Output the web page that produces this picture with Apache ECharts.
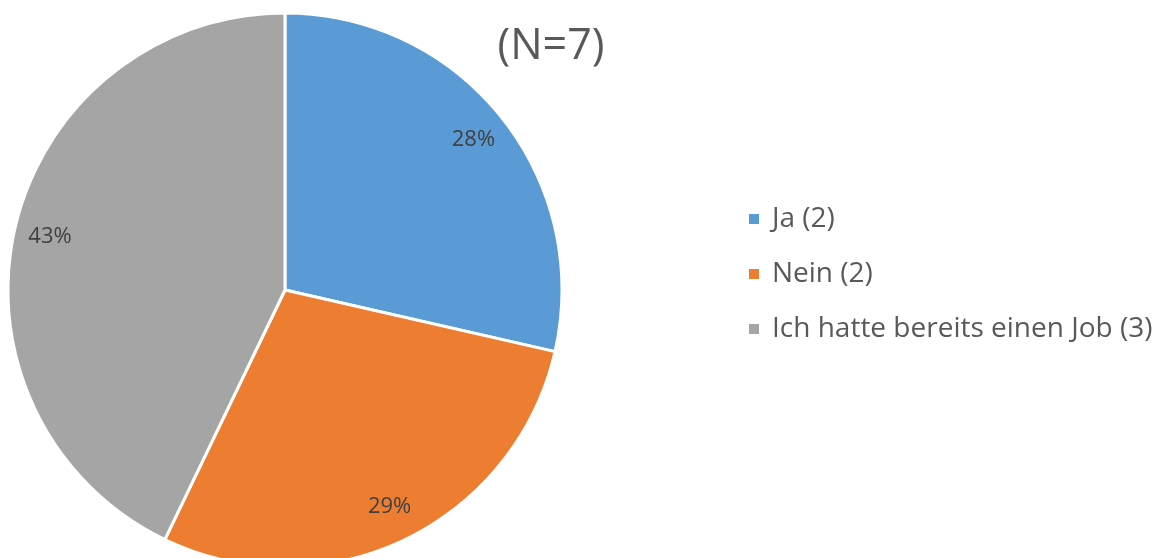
<!DOCTYPE html>
<html>
<head>
<meta charset="utf-8">
<script src="https://cdn.jsdelivr.net/npm/echarts@6/dist/echarts.min.js"></script>
<style>
    html, body { margin: 0; padding: 0; background: #fff; }
    #chart { width: 1166px; height: 558px; }
</style>
</head>
<body>
<div id="chart"></div>
<script>
// Antworten, Anzahl und angezeigte Prozentwerte
var categories = ['Ja (2)', 'Nein (2)', 'Ich hatte bereits einen Job (3)'];
var counts = [2, 2, 3];
var percentLabels = ['28%', '29%', '43%'];
var colors = ['#5B9BD5', '#ED7D31', '#A5A5A5'];

var pieData = categories.map(function (name, i) {
    return { name: name, value: counts[i], itemStyle: { color: colors[i] } };
});

var theChart = echarts.init(document.getElementById('chart'));
var option = {
    backgroundColor: '#fff',
    animation: false,
    title: {
        text: '(N=7)',
        left: 546,
        top: 20,
        textAlign: 'center',
        textStyle: {
            color: '#595959',
            fontSize: 43,
            fontWeight: 'normal',
            fontFamily: 'Open Sans'
        }
    },
    legend: {
        orient: 'vertical',
        left: 742,
        top: 200,
        icon: 'rect',
        itemWidth: 12,
        itemHeight: 12,
        itemGap: 27,
        data: categories,
        textStyle: {
            color: '#595959',
            fontSize: 28,
            fontFamily: 'Open Sans',
            padding: [0, 0, 0, 7]
        }
    },
    series: [{
        // Kreissegmente
        name: 'Antworten',
        type: 'pie',
        center: [285, 290],
        radius: 277,
        startAngle: 90,
        clockwise: true,
        avoidLabelOverlap: false,
        itemStyle: {
            borderColor: '#fff',
            borderWidth: 3
        },
        label: { show: false },
        labelLine: { show: false },
        emphasis: { disabled: true },
        data: pieData
    }, {
        // unsichtbarer Ring nur fuer die Beschriftung (weiter aussen)
        name: 'Beschriftung',
        type: 'pie',
        center: [285, 290],
        radius: [199, 277],
        startAngle: 90,
        clockwise: true,
        silent: true,
        itemStyle: { color: 'rgba(0,0,0,0)' },
        label: {
            show: true,
            position: 'inside',
            formatter: function (p) {
                return percentLabels[p.dataIndex];
            },
            color: '#404040',
            fontSize: 22,
            fontFamily: 'Open Sans'
        },
        labelLine: { show: false },
        emphasis: { disabled: true },
        data: categories.map(function (name, i) {
            return { name: name, value: counts[i] };
        })
    }]
};
theChart.setOption(option);
</script>
</body>
</html>
